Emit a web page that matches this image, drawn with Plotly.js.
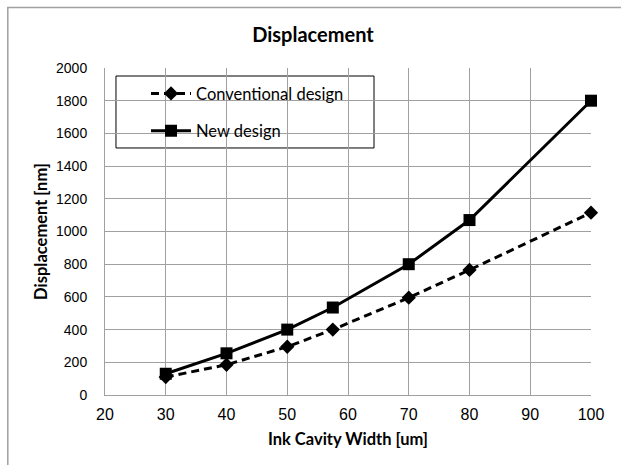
<!DOCTYPE html>
<html>
<head>
<meta charset="utf-8">
<script src="https://cdn.plot.ly/plotly-3.0.1.min.js"></script>
<style>html,body{margin:0;padding:0;background:#fff;}#chart{width:621px;height:465px;}</style>
</head>
<body>
<div id="chart"></div>
<script>
const widths = [30, 40, 50, 57.5, 70, 80, 100];
const conventional = [110, 185, 295, 400, 595, 765, 1115];
const newDesign = [130, 255, 400, 535, 800, 1070, 1800];
const xTicks = [20, 30, 40, 50, 60, 70, 80, 90, 100];
const yTicks = [0, 200, 400, 600, 800, 1000, 1200, 1400, 1600, 1800, 2000];

const traces = [
  {x: widths, y: conventional, name: 'Conventional design', mode: 'lines+markers', legendgroup: 'a', cliponaxis: false,
   line: {color: '#000', width: 3, dash: '8px,5px'}, marker: {symbol: 'diamond', size: 11, color: '#000'}},
  {x: widths, y: newDesign, name: 'New design', mode: 'lines+markers', legendgroup: 'b', cliponaxis: false,
   line: {color: '#000', width: 3}, marker: {symbol: 'square', size: 12, color: '#000'}}
];

const layout = {
  width: 621, height: 465,
  margin: {l: 105, r: 30, t: 68, b: 70},
  paper_bgcolor: '#fff', plot_bgcolor: '#fff',
  font: {family: 'Arial, Liberation Sans, sans-serif', color: '#000'},
  title: {text: '<b>Displacement</b>', font: {family: 'Lato, Open Sans, sans-serif', size: 20, color: '#000'}, x: 0.504, xanchor: 'center', y: 0.925, yanchor: 'middle'},
  xaxis: {range: [20, 100], tickvals: xTicks, ticktext: xTicks.map(String), showgrid: true, gridcolor: '#a0a0a0', gridwidth: 1,
          showline: true, linecolor: '#a0a0a0', linewidth: 1, zeroline: false, ticks: '', tickfont: {size: 16}, ticklabelstandoff: 5,
          title: {text: '<b>Ink Cavity Width [um]</b>', font: {family: 'Lato, Open Sans, sans-serif', size: 16.5}, standoff: 11}},
  yaxis: {range: [0, 2000], tickvals: yTicks, ticktext: yTicks.map(String), showgrid: true, gridcolor: '#a0a0a0', gridwidth: 1,
          showline: true, linecolor: '#a0a0a0', linewidth: 1, zeroline: false, ticks: '', tickfont: {size: 14}, ticklabelstandoff: 14,
          title: {text: '<b>Displacement [nm]</b>', font: {family: 'Lato, Open Sans, sans-serif', size: 16.5}, standoff: 4}},
  showlegend: true,
  legend: {x: 0.0844, y: 0.975, xanchor: 'left', yanchor: 'top', bgcolor: 'rgba(0,0,0,0)', borderwidth: 0,
           font: {family: 'Lato, Open Sans, sans-serif', size: 16.5, color: '#000'}, tracegroupgap: 13, itemwidth: 40,
           traceorder: 'grouped'},
  shapes: [
    {type: 'rect', xref: 'paper', yref: 'paper', x0: -0.2, x1: 1.1, y0: -0.3, y1: 1.185,
     line: {color: '#a0a0a0', width: 1.5}, fillcolor: 'rgba(0,0,0,0)', layer: 'below'},
    {type: 'rect', xref: 'paper', yref: 'paper', x0: 0.0226, x1: 0.5535, y0: 0.7554, y1: 0.9755,
     line: {color: '#000', width: 1}, fillcolor: '#fff', layer: 'between'}
  ]
};

Plotly.newPlot('chart', traces, layout, {displayModeBar: false, staticPlot: true});
</script>
</body>
</html>
